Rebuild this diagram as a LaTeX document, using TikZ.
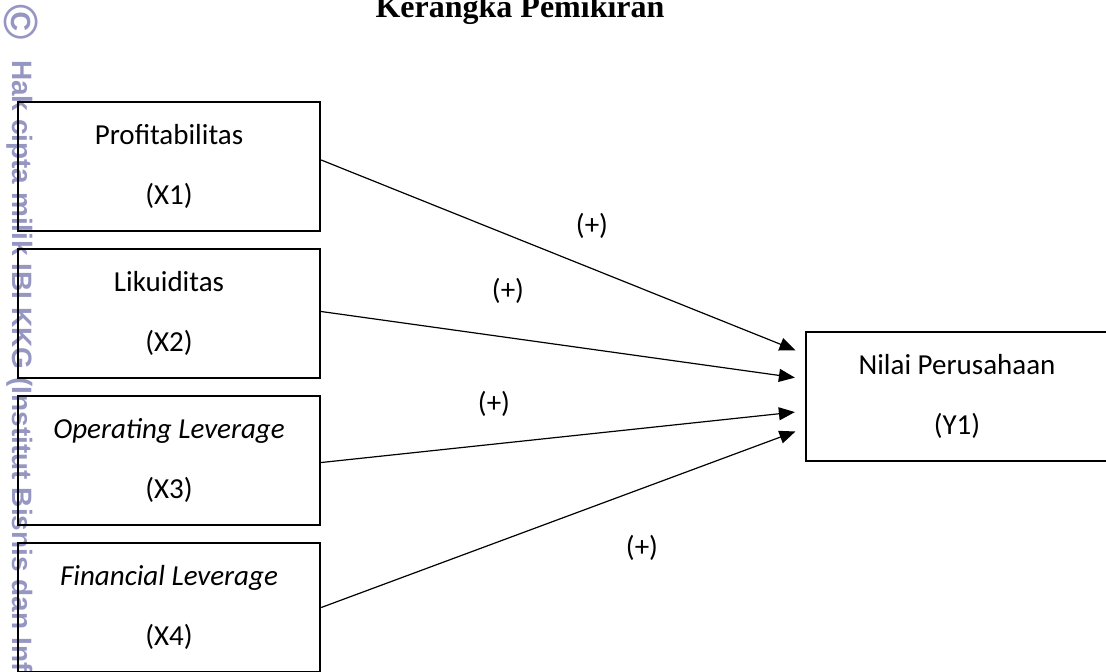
\documentclass[tikz,border=0pt]{standalone}
\usepackage{fontspec}
\setmainfont{Carlito}
\newfontfamily\titlefont{Liberation Serif}
\newfontfamily\markfont{Liberation Sans}
\usetikzlibrary{arrows.meta}
\definecolor{wmark}{RGB}{150,150,195}
\begin{document}
\begin{tikzpicture}[x=0.5pt, y=-0.5pt, node distance=73.5pt,
    var/.style={draw, line width=1.2pt, minimum width=151pt, minimum height=64.5pt,
      align=center, font=\fontsize{14.5}{17.5}\selectfont},
    sign/.style={font=\fontsize{14.5}{17.5}\selectfont},
    arr/.style={-{Triangle[length=8pt,width=6.5pt]}, line width=0.6pt, shorten >=5pt}]
    \clip (0,0) rectangle (1106,671);
    % watermark of the scan
    \node[rotate=-90, text=wmark, font=\markfont\bfseries\fontsize{24}{28}\selectfont] (cc) at (21,22) {\textcopyright};
    \node[rotate=-90, text=wmark, font=\markfont\bfseries\fontsize{14}{17}\selectfont, anchor=base west] (wm) at (12,53)
        {Hak cipta milik IBI KKG (Institut Bisnis dan Info};
    \node[font=\titlefont\bfseries\fontsize{16}{19}\selectfont, anchor=base] (title) at (520,17) {Kerangka Pemikiran};
    % variables
    \node[var] (X1) at (169,166.5) {Profitabilitas\\[12.5pt](X1)};
    \node[var, below of=X1] (X2) {Likuiditas\\[12.5pt](X2)};
    \node[var, below of=X2] (X3) {\textit{Operating Leverage}\\[12.5pt](X3)};
    \node[var, below of=X3] (X4) {\textit{Financial Leverage}\\[12.5pt](X4)};
    \node[var] (Y1) at (957,396.5) {Nilai Perusahaan\\[12.5pt](Y1)};
    % hypotheses
    \draw[arr] ([yshift=3.25pt]X1.east) -- ([yshift=21.25pt]Y1.west);
    \draw[arr] ([yshift=1pt]X2.east) -- ([yshift=8.75pt]Y1.west);
    \draw[arr] ([yshift=-1pt]X3.east) -- ([yshift=-7.25pt]Y1.west);
    \draw[arr] (X4.east) -- ([yshift=-15.75pt]Y1.west);
    \node[sign] (s1) at (592,226) {(+)};
    \node[sign] (s2) at (508,291) {(+)};
    \node[sign] (s3) at (494,404) {(+)};
    \node[sign] (s4) at (642,548) {(+)};
\end{tikzpicture}
\end{document}
